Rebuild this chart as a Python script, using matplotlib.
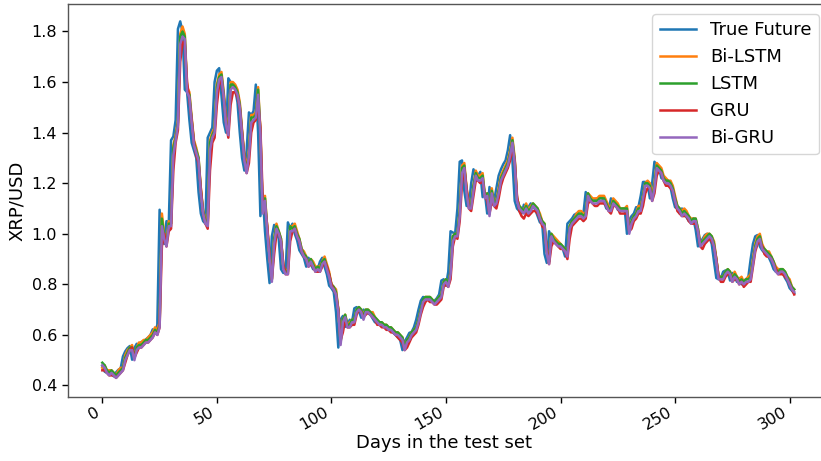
import numpy as np
import matplotlib
matplotlib.use("Agg")
import matplotlib.pyplot as plt

# XRP/USD closing price over the test set
true_future = [
    0.478, 0.455, 0.450, 0.452, 0.445, 0.436, 0.452, 0.462, 0.468, 0.515,
    0.535, 0.548, 0.556, 0.502, 0.548, 0.565, 0.560, 0.572, 0.575, 0.582,
    0.590, 0.600, 0.622, 0.610, 0.640, 1.095, 0.990, 0.960, 1.050, 1.040,
    1.370, 1.385, 1.450, 1.810, 1.840, 1.800, 1.570, 1.560, 1.450, 1.360,
    1.330, 1.300, 1.165, 1.080, 1.050, 1.040, 1.380, 1.400, 1.420, 1.600,
    1.645, 1.655, 1.550, 1.440, 1.400, 1.615, 1.600, 1.595, 1.570, 1.520,
    1.400, 1.300, 1.250, 1.330, 1.480, 1.470, 1.485, 1.590, 1.400, 1.070,
    1.160, 1.010, 0.900, 0.805, 0.990, 1.035, 1.010, 0.980, 0.860, 0.845,
    0.850, 1.045, 1.020, 1.040, 1.000, 0.975, 0.935, 0.920, 0.905, 0.870,
    0.905, 0.880, 0.860, 0.865, 0.860, 0.890, 0.905, 0.870, 0.840, 0.795,
    0.785, 0.770, 0.690, 0.550, 0.660, 0.675, 0.632, 0.640, 0.660, 0.652,
    0.705, 0.710, 0.695, 0.668, 0.700, 0.695, 0.685, 0.680, 0.665, 0.650,
    0.648, 0.640, 0.638, 0.632, 0.625, 0.620, 0.618, 0.608, 0.600, 0.590,
    0.580, 0.540, 0.575, 0.590, 0.608, 0.612, 0.630, 0.660, 0.700, 0.735,
    0.750, 0.748, 0.745, 0.738, 0.730, 0.735, 0.745, 0.760, 0.815, 0.820,
    0.795, 0.850, 1.010, 1.005, 1.000, 1.100, 1.285, 1.290, 1.170, 1.110,
    1.110, 1.200, 1.255, 1.225, 1.230, 1.245, 1.145, 1.160, 1.080, 1.185,
    1.115, 1.130, 1.180, 1.230, 1.255, 1.275, 1.290, 1.330, 1.390, 1.290,
    1.130, 1.100, 1.090, 1.080, 1.115, 1.080, 1.105, 1.120, 1.110, 1.095,
    1.070, 1.045, 1.040, 0.920, 0.885, 1.010, 0.985, 0.970, 0.960, 0.955,
    0.950, 0.940, 0.910, 1.040, 1.050, 1.060, 1.075, 1.080, 1.080, 1.070,
    1.080, 1.165, 1.140, 1.135, 1.130, 1.135, 1.140, 1.140, 1.145, 1.125,
    1.100, 1.095, 1.140, 1.125, 1.115, 1.095, 1.095, 1.098, 1.100, 1.000,
    1.055, 1.070, 1.080, 1.105, 1.105, 1.150, 1.205, 1.205, 1.200, 1.140,
    1.200, 1.285, 1.270, 1.260, 1.220, 1.215, 1.210, 1.200, 1.185, 1.140,
    1.105, 1.100, 1.080, 1.100, 1.080, 1.065, 1.050, 1.055, 1.060, 1.015,
    0.950, 0.965, 0.980, 0.995, 1.000, 0.985, 0.960, 0.890, 0.825, 0.820,
    0.825, 0.850, 0.855, 0.850, 0.815, 0.845, 0.830, 0.810, 0.825, 0.800,
    0.815, 0.820, 0.830, 0.900, 0.960, 0.990, 0.995, 0.950, 0.935, 0.925,
    0.925, 0.905, 0.885, 0.860, 0.850, 0.855, 0.855, 0.845, 0.825, 0.810,
    0.785, 0.775, 0.765,
]

bi_lstm = [
    0.47, 0.48, 0.46, 0.46, 0.46, 0.45, 0.44, 0.46, 0.47, 0.47,
    0.52, 0.54, 0.55, 0.56, 0.51, 0.55, 0.57, 0.57, 0.58, 0.58,
    0.59, 0.60, 0.61, 0.63, 0.62, 0.65, 1.08, 1.00, 0.97, 1.05,
    1.04, 1.35, 1.39, 1.45, 1.79, 1.82, 1.79, 1.58, 1.56, 1.46,
    1.37, 1.34, 1.30, 1.18, 1.09, 1.06, 1.05, 1.37, 1.40, 1.42,
    1.59, 1.63, 1.64, 1.56, 1.45, 1.41, 1.60, 1.60, 1.59, 1.57,
    1.52, 1.41, 1.31, 1.26, 1.33, 1.47, 1.47, 1.48, 1.58, 1.41,
    1.09, 1.15, 1.02, 0.91, 0.82, 0.98, 1.04, 1.01, 0.98, 0.87,
    0.85, 0.86, 1.03, 1.03, 1.04, 1.01, 0.98, 0.94, 0.93, 0.91,
    0.88, 0.90, 0.89, 0.87, 0.87, 0.87, 0.89, 0.91, 0.88, 0.85,
    0.80, 0.79, 0.78, 0.70, 0.57, 0.66, 0.68, 0.64, 0.65, 0.66,
    0.66, 0.70, 0.71, 0.70, 0.68, 0.70, 0.70, 0.69, 0.69, 0.67,
    0.66, 0.65, 0.65, 0.64, 0.64, 0.63, 0.63, 0.62, 0.61, 0.61,
    0.60, 0.59, 0.55, 0.58, 0.59, 0.61, 0.62, 0.63, 0.66, 0.70,
    0.73, 0.75, 0.75, 0.75, 0.74, 0.73, 0.74, 0.75, 0.76, 0.81,
    0.82, 0.80, 0.85, 0.99, 1.00, 1.00, 1.09, 1.27, 1.28, 1.18,
    1.12, 1.11, 1.19, 1.25, 1.23, 1.23, 1.24, 1.15, 1.16, 1.09,
    1.18, 1.12, 1.13, 1.18, 1.23, 1.25, 1.27, 1.29, 1.33, 1.38,
    1.30, 1.14, 1.11, 1.10, 1.09, 1.12, 1.09, 1.11, 1.12, 1.11,
    1.10, 1.08, 1.05, 1.04, 0.93, 0.89, 1.00, 0.99, 0.98, 0.97,
    0.96, 0.95, 0.94, 0.92, 1.03, 1.05, 1.06, 1.08, 1.09, 1.09,
    1.08, 1.08, 1.16, 1.15, 1.14, 1.14, 1.14, 1.15, 1.15, 1.15,
    1.13, 1.11, 1.10, 1.14, 1.13, 1.12, 1.10, 1.10, 1.10, 1.11,
    1.01, 1.05, 1.07, 1.08, 1.11, 1.11, 1.15, 1.20, 1.21, 1.20,
    1.15, 1.20, 1.28, 1.27, 1.26, 1.23, 1.22, 1.21, 1.21, 1.19,
    1.15, 1.11, 1.10, 1.09, 1.10, 1.09, 1.07, 1.06, 1.06, 1.06,
    1.02, 0.96, 0.97, 0.99, 1.00, 1.00, 0.99, 0.97, 0.90, 0.83,
    0.83, 0.83, 0.85, 0.86, 0.85, 0.82, 0.85, 0.83, 0.82, 0.83,
    0.81, 0.82, 0.83, 0.84, 0.90, 0.96, 0.99, 1.00, 0.96, 0.94,
    0.93, 0.93, 0.91, 0.89, 0.87, 0.86, 0.86, 0.86, 0.85, 0.83,
    0.82, 0.79, 0.78,
]

lstm = [
    0.49, 0.48, 0.46, 0.45, 0.46, 0.45, 0.44, 0.45, 0.46, 0.47,
    0.51, 0.53, 0.55, 0.55, 0.51, 0.55, 0.56, 0.56, 0.57, 0.58,
    0.58, 0.59, 0.60, 0.62, 0.61, 0.64, 1.06, 0.99, 0.96, 1.04,
    1.04, 1.34, 1.38, 1.44, 1.78, 1.80, 1.78, 1.57, 1.55, 1.45,
    1.36, 1.33, 1.30, 1.17, 1.09, 1.05, 1.04, 1.36, 1.39, 1.41,
    1.58, 1.62, 1.63, 1.55, 1.44, 1.40, 1.59, 1.59, 1.58, 1.56,
    1.51, 1.40, 1.30, 1.25, 1.32, 1.46, 1.46, 1.47, 1.57, 1.40,
    1.09, 1.14, 1.02, 0.91, 0.82, 0.98, 1.03, 1.01, 0.98, 0.87,
    0.85, 0.85, 1.03, 1.02, 1.03, 1.00, 0.98, 0.94, 0.92, 0.91,
    0.88, 0.90, 0.88, 0.86, 0.87, 0.86, 0.89, 0.90, 0.87, 0.84,
    0.80, 0.79, 0.77, 0.70, 0.57, 0.66, 0.68, 0.64, 0.64, 0.66,
    0.66, 0.70, 0.71, 0.70, 0.67, 0.70, 0.70, 0.69, 0.68, 0.67,
    0.66, 0.65, 0.65, 0.64, 0.64, 0.63, 0.63, 0.62, 0.61, 0.61,
    0.60, 0.59, 0.55, 0.58, 0.59, 0.61, 0.62, 0.63, 0.66, 0.70,
    0.74, 0.75, 0.75, 0.75, 0.74, 0.73, 0.74, 0.75, 0.76, 0.81,
    0.82, 0.80, 0.85, 0.99, 1.00, 1.00, 1.09, 1.26, 1.27, 1.17,
    1.11, 1.11, 1.19, 1.24, 1.22, 1.22, 1.23, 1.15, 1.16, 1.08,
    1.17, 1.12, 1.13, 1.17, 1.22, 1.24, 1.26, 1.28, 1.32, 1.37,
    1.29, 1.14, 1.11, 1.10, 1.09, 1.11, 1.09, 1.10, 1.12, 1.11,
    1.10, 1.07, 1.05, 1.04, 0.93, 0.89, 1.00, 0.98, 0.97, 0.96,
    0.96, 0.95, 0.94, 0.92, 1.03, 1.05, 1.06, 1.07, 1.08, 1.08,
    1.07, 1.08, 1.16, 1.14, 1.13, 1.13, 1.13, 1.14, 1.14, 1.14,
    1.12, 1.10, 1.10, 1.13, 1.12, 1.11, 1.10, 1.10, 1.10, 1.10,
    1.01, 1.05, 1.07, 1.08, 1.10, 1.10, 1.15, 1.20, 1.20, 1.19,
    1.14, 1.19, 1.27, 1.26, 1.25, 1.22, 1.21, 1.21, 1.20, 1.18,
    1.14, 1.11, 1.10, 1.08, 1.09, 1.08, 1.07, 1.05, 1.06, 1.06,
    1.02, 0.96, 0.97, 0.98, 0.99, 1.00, 0.99, 0.96, 0.90, 0.83,
    0.83, 0.83, 0.85, 0.86, 0.85, 0.82, 0.84, 0.83, 0.81, 0.82,
    0.81, 0.82, 0.82, 0.83, 0.89, 0.95, 0.98, 0.99, 0.95, 0.94,
    0.93, 0.92, 0.91, 0.89, 0.86, 0.85, 0.86, 0.86, 0.85, 0.83,
    0.81, 0.79, 0.78,
]

gru = [
    0.46, 0.46, 0.45, 0.44, 0.44, 0.44, 0.43, 0.44, 0.45, 0.46,
    0.49, 0.52, 0.54, 0.55, 0.51, 0.53, 0.55, 0.55, 0.56, 0.57,
    0.57, 0.58, 0.59, 0.61, 0.60, 0.63, 0.95, 1.00, 0.95, 1.01,
    1.02, 1.25, 1.36, 1.41, 1.68, 1.76, 1.75, 1.60, 1.53, 1.45,
    1.36, 1.31, 1.28, 1.18, 1.08, 1.04, 1.02, 1.25, 1.36, 1.38,
    1.51, 1.59, 1.61, 1.54, 1.44, 1.38, 1.51, 1.56, 1.56, 1.54,
    1.50, 1.40, 1.30, 1.24, 1.28, 1.40, 1.44, 1.45, 1.52, 1.42,
    1.14, 1.11, 1.03, 0.91, 0.82, 0.92, 1.00, 1.00, 0.97, 0.88,
    0.84, 0.84, 0.97, 1.01, 1.02, 0.99, 0.97, 0.93, 0.91, 0.90,
    0.87, 0.88, 0.87, 0.85, 0.85, 0.85, 0.87, 0.89, 0.87, 0.84,
    0.80, 0.78, 0.76, 0.70, 0.58, 0.61, 0.66, 0.63, 0.63, 0.64,
    0.64, 0.68, 0.70, 0.69, 0.67, 0.68, 0.69, 0.68, 0.67, 0.66,
    0.64, 0.64, 0.63, 0.63, 0.62, 0.62, 0.61, 0.61, 0.60, 0.59,
    0.58, 0.57, 0.54, 0.55, 0.57, 0.59, 0.60, 0.61, 0.64, 0.68,
    0.71, 0.73, 0.74, 0.73, 0.73, 0.72, 0.72, 0.73, 0.74, 0.79,
    0.80, 0.79, 0.82, 0.95, 0.99, 0.98, 1.05, 1.20, 1.26, 1.18,
    1.10, 1.09, 1.15, 1.21, 1.21, 1.20, 1.21, 1.15, 1.13, 1.08,
    1.13, 1.11, 1.10, 1.14, 1.19, 1.22, 1.24, 1.26, 1.29, 1.34,
    1.29, 1.15, 1.09, 1.07, 1.06, 1.08, 1.07, 1.08, 1.09, 1.09,
    1.08, 1.06, 1.03, 1.02, 0.94, 0.88, 0.95, 0.97, 0.96, 0.95,
    0.94, 0.94, 0.93, 0.90, 0.98, 1.03, 1.04, 1.05, 1.06, 1.06,
    1.05, 1.06, 1.12, 1.13, 1.12, 1.11, 1.11, 1.12, 1.12, 1.12,
    1.11, 1.09, 1.08, 1.11, 1.11, 1.10, 1.08, 1.08, 1.08, 1.08,
    1.01, 1.02, 1.05, 1.06, 1.08, 1.08, 1.11, 1.16, 1.18, 1.18,
    1.13, 1.16, 1.23, 1.25, 1.24, 1.21, 1.19, 1.19, 1.18, 1.17,
    1.13, 1.09, 1.08, 1.07, 1.07, 1.07, 1.05, 1.04, 1.04, 1.04,
    1.01, 0.95, 0.94, 0.96, 0.97, 0.98, 0.97, 0.95, 0.90, 0.83,
    0.81, 0.81, 0.83, 0.84, 0.84, 0.81, 0.82, 0.82, 0.80, 0.81,
    0.79, 0.80, 0.81, 0.81, 0.87, 0.93, 0.96, 0.97, 0.95, 0.92,
    0.91, 0.91, 0.90, 0.88, 0.86, 0.84, 0.84, 0.84, 0.83, 0.82,
    0.80, 0.78, 0.76,
]

bi_gru = [
    0.48, 0.47, 0.45, 0.44, 0.45, 0.44, 0.43, 0.44, 0.45, 0.46,
    0.50, 0.52, 0.54, 0.54, 0.50, 0.54, 0.55, 0.55, 0.56, 0.57,
    0.57, 0.58, 0.59, 0.61, 0.60, 0.63, 1.03, 0.98, 0.95, 1.03,
    1.03, 1.31, 1.37, 1.43, 1.75, 1.78, 1.77, 1.56, 1.54, 1.44,
    1.35, 1.32, 1.29, 1.16, 1.08, 1.04, 1.03, 1.33, 1.38, 1.40,
    1.56, 1.61, 1.62, 1.54, 1.43, 1.39, 1.57, 1.58, 1.57, 1.55,
    1.50, 1.39, 1.29, 1.24, 1.31, 1.44, 1.45, 1.46, 1.55, 1.39,
    1.08, 1.13, 1.01, 0.90, 0.81, 0.96, 1.02, 1.00, 0.97, 0.86,
    0.84, 0.84, 1.01, 1.01, 1.02, 0.99, 0.97, 0.93, 0.91, 0.90,
    0.87, 0.89, 0.87, 0.85, 0.86, 0.85, 0.88, 0.89, 0.86, 0.83,
    0.79, 0.78, 0.76, 0.69, 0.56, 0.65, 0.67, 0.63, 0.63, 0.65,
    0.65, 0.69, 0.70, 0.69, 0.66, 0.69, 0.69, 0.68, 0.67, 0.66,
    0.65, 0.64, 0.64, 0.63, 0.63, 0.62, 0.62, 0.61, 0.60, 0.60,
    0.59, 0.58, 0.54, 0.57, 0.58, 0.60, 0.61, 0.62, 0.65, 0.69,
    0.73, 0.74, 0.74, 0.74, 0.73, 0.72, 0.73, 0.74, 0.75, 0.80,
    0.81, 0.79, 0.84, 0.97, 0.99, 0.99, 1.07, 1.24, 1.26, 1.16,
    1.10, 1.10, 1.17, 1.23, 1.21, 1.21, 1.22, 1.14, 1.15, 1.07,
    1.16, 1.11, 1.12, 1.16, 1.21, 1.23, 1.25, 1.27, 1.31, 1.36,
    1.28, 1.13, 1.10, 1.09, 1.08, 1.10, 1.08, 1.09, 1.11, 1.10,
    1.09, 1.06, 1.04, 1.03, 0.92, 0.88, 0.99, 0.97, 0.96, 0.95,
    0.95, 0.94, 0.93, 0.91, 1.02, 1.04, 1.05, 1.06, 1.07, 1.07,
    1.06, 1.07, 1.15, 1.13, 1.12, 1.12, 1.12, 1.13, 1.13, 1.13,
    1.11, 1.09, 1.09, 1.12, 1.11, 1.10, 1.09, 1.09, 1.09, 1.09,
    1.00, 1.04, 1.06, 1.07, 1.09, 1.09, 1.14, 1.19, 1.19, 1.18,
    1.13, 1.18, 1.26, 1.25, 1.24, 1.21, 1.20, 1.20, 1.19, 1.17,
    1.13, 1.10, 1.09, 1.07, 1.08, 1.07, 1.06, 1.04, 1.05, 1.05,
    1.01, 0.95, 0.96, 0.97, 0.98, 0.99, 0.98, 0.95, 0.89, 0.82,
    0.82, 0.82, 0.84, 0.85, 0.84, 0.81, 0.83, 0.82, 0.80, 0.81,
    0.80, 0.81, 0.81, 0.82, 0.88, 0.94, 0.97, 0.98, 0.94, 0.93,
    0.92, 0.91, 0.90, 0.88, 0.85, 0.84, 0.85, 0.85, 0.84, 0.82,
    0.80, 0.78, 0.77,
]

series = [
    ("True Future", true_future),
    ("Bi-LSTM", bi_lstm),
    ("LSTM", lstm),
    ("GRU", gru),
    ("Bi-GRU", bi_gru),
]
colors = ["#1f77b4", "#ff7f0e", "#2ca02c", "#d62728", "#9467bd"]

xticks = [0, 50, 100, 150, 200, 250, 300]
yticks = [0.4, 0.6, 0.8, 1.0, 1.2, 1.4, 1.6, 1.8]

plt.rcParams["font.family"] = "DejaVu Sans"

fig = plt.figure(figsize=(8.21, 4.61), dpi=100)
# axes run a bit past the right edge, like the cropped original
ax = fig.add_axes([0.0825, 0.1395, 0.927, 0.8518])

for (name, vals), c in zip(series, colors):
    ax.plot(np.arange(len(vals)), vals, color=c, linewidth=1.8, label=name)

ax.set_xlim(-15.1, 317.1)
ax.set_ylim(0.3557, 1.9087)
ax.set_xticks(xticks)
ax.set_yticks(yticks)
ax.set_yticklabels([f"{v:.1f}" for v in yticks])
ax.tick_params(labelsize=11.5, length=4.2, width=1.0)
ax.tick_params(axis="x", pad=1.5)
for lbl in ax.get_xticklabels():
    lbl.set_rotation(30)
    lbl.set_ha("right")
for sp in ax.spines.values():
    sp.set_linewidth(1.0)
    sp.set_color("#555555")
ax.spines["right"].set_visible(False)

ax.set_xlabel("Days in the test set", fontsize=13)
ax.xaxis.set_label_coords(0.494, -0.094)
ax.set_ylabel("XRP/USD", fontsize=13)
ax.legend(loc="upper right", fontsize=13, borderaxespad=0.55)

fig.savefig("out.png", dpi=100)
plt.close(fig)
